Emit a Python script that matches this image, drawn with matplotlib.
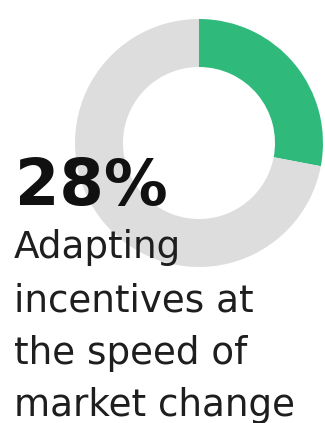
import matplotlib
matplotlib.use("Agg")
import matplotlib.pyplot as plt

# donut values (percent)
share = [28, 72]
colors = ["#2fba7c", "#dddddd"]

headline = "28%"
caption = ["Adapting", "incentives at", "the speed of", "market change"]

W, H = 325, 423
fig = plt.figure(figsize=(W / 100, H / 100), dpi=100)
ax = fig.add_axes([0, 0, 1, 1])

ax.pie(
    share,
    colors=colors,
    startangle=90,
    counterclock=False,
    radius=124,
    center=(199, H - 143),
    wedgeprops=dict(width=48, linewidth=0),
)

ax.set_xlim(0, W)
ax.set_ylim(0, H)
ax.set_aspect("auto")
ax.axis("off")

ax.text(15, H - 205, headline, fontsize=46, fontweight="bold",
        family="DejaVu Sans", color="#111111", va="baseline", ha="left")

# baselines of the caption lines, image pixels from the top
baselines = [258, 311, 364, 416]
for y, line in zip(baselines, caption):
    ax.text(14, H - y, line, fontsize=26.8, family="DejaVu Sans",
            color="#1e1e1e", va="baseline", ha="left")

fig.savefig("out.png", dpi=100, facecolor="white")
